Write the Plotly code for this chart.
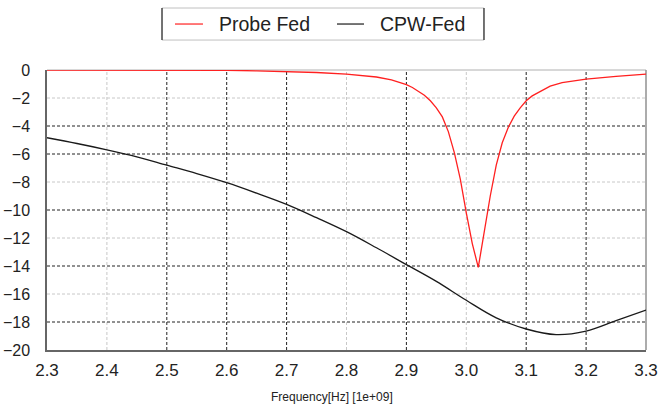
import plotly.graph_objects as go

# Data (frequency in GHz, S11 in dB)
probe_freq = [2.3, 2.4, 2.5, 2.6, 2.65, 2.7, 2.75, 2.8, 2.85, 2.875, 2.9, 2.91, 2.92, 2.93, 2.94,
              2.95, 2.96, 2.97, 2.98, 2.99, 3.0, 3.01, 3.02, 3.03, 3.04, 3.05, 3.06, 3.07, 3.08,
              3.09, 3.1, 3.11, 3.12, 3.13, 3.14, 3.16, 3.18, 3.2, 3.25, 3.3]
probe_db = [0.0, 0.0, 0.0, -0.02, -0.06, -0.1, -0.18, -0.3, -0.5, -0.7, -1.05, -1.25, -1.5, -1.8,
            -2.2, -2.7, -3.35, -4.4, -5.9, -7.8, -10.2, -12.4, -14.1, -11.5, -9.0, -6.8, -5.2,
            -4.1, -3.3, -2.7, -2.2, -1.85, -1.6, -1.35, -1.15, -0.9, -0.75, -0.65, -0.45, -0.3]

cpw_freq = [2.3, 2.35, 2.4, 2.45, 2.5, 2.55, 2.6, 2.65, 2.7, 2.75, 2.8, 2.85, 2.9, 2.95,
            3.0, 3.05, 3.1, 3.15, 3.2, 3.25, 3.3]
cpw_db = [-4.84, -5.25, -5.7, -6.2, -6.8, -7.4, -8.05, -8.8, -9.6, -10.55, -11.55, -12.7,
          -13.9, -15.1, -16.45, -17.7, -18.5, -18.9, -18.65, -17.9, -17.15]

series_names = ["Probe Fed", "CPW-Fed"]
series_colors = ["#ff2020", "#1a1a1a"]

x_ticks = [2.3, 2.4, 2.5, 2.6, 2.7, 2.8, 2.9, 3.0, 3.1, 3.2, 3.3]
y_ticks = [0, -2, -4, -6, -8, -10, -12, -14, -16, -18, -20]

# grid line styling (dark / light dashed) for interior grid lines
x_grid = [2.4, 2.5, 2.6, 2.7, 2.8, 2.9, 3.0, 3.1, 3.2]
x_grid_dark = [False, True, True, True, False, True, False, True, True]
y_grid = [-2, -4, -6, -8, -10, -12, -14, -16, -18]
y_grid_dark = [False, True, True, False, True, False, True, False, True]

DARK = "#222222"
LIGHT = "#c8c8c8"

fig = go.Figure()
fig.add_trace(go.Scatter(x=probe_freq, y=probe_db, mode="lines", name=series_names[0],
                         line=dict(color=series_colors[0], width=1.3)))
fig.add_trace(go.Scatter(x=cpw_freq, y=cpw_db, mode="lines", name=series_names[1],
                         line=dict(color=series_colors[1], width=1.3, shape="spline")))

shapes = []
for v, d in zip(x_grid, x_grid_dark):
    shapes.append(dict(type="line", xref="x", yref="y domain", x0=v, x1=v, y0=0, y1=1,
                       layer="below", line=dict(color=DARK if d else LIGHT, width=1, dash="3px,2px")))
for v, d in zip(y_grid, y_grid_dark):
    shapes.append(dict(type="line", xref="x domain", yref="y", x0=0, x1=1, y0=v, y1=v,
                       layer="below", line=dict(color=DARK if d else LIGHT, width=1, dash="3px,2px")))
# top and right frame (light)
shapes.append(dict(type="line", xref="x domain", yref="y domain", x0=0, x1=1, y0=1, y1=1,
                   layer="below", line=dict(color="#b0b0b0", width=1)))
shapes.append(dict(type="line", xref="x domain", yref="y domain", x0=1, x1=1, y0=0, y1=1,
                   layer="below", line=dict(color="#909090", width=1.5)))

# manual legend box (paper coords)
LX0, LX1, LYB, LYT = 0.192, 0.7295, 1.107, 1.2214
LYM = (LYB + LYT) / 2
shapes += [
    dict(type="line", xref="paper", yref="paper", x0=LX0, x1=LX1, y0=LYT, y1=LYT, line=dict(color="#c0c0c0", width=1)),
    dict(type="line", xref="paper", yref="paper", x0=LX0, x1=LX1, y0=LYB, y1=LYB, line=dict(color="#c0c0c0", width=1)),
    dict(type="line", xref="paper", yref="paper", x0=LX0, x1=LX0, y0=LYB, y1=LYT, line=dict(color="#444444", width=1.5)),
    dict(type="line", xref="paper", yref="paper", x0=LX1, x1=LX1, y0=LYB, y1=LYT, line=dict(color="#444444", width=1.5)),
]
sample_x = [(0.2137, 0.2604), (0.4841, 0.5292)]
text_x = [0.2838, 0.5526]
annotations = []
for (sx0, sx1), tx, nm, col in zip(sample_x, text_x, series_names, series_colors):
    shapes.append(dict(type="line", xref="paper", yref="paper", x0=sx0, x1=sx1, y0=LYM, y1=LYM,
                       line=dict(color=col, width=1.2)))
    annotations.append(dict(text=nm, xref="paper", yref="paper", x=tx, y=LYM, xanchor="left",
                            yanchor="middle", showarrow=False, font=dict(size=19.5, color="#222222")))

annotations.append(dict(text="Frequency[Hz] [1e+09]", xref="paper", yref="paper",
                        x=0.475, y=-0.167, xanchor="center", yanchor="middle", showarrow=False,
                        font=dict(size=12, color="#222222")))

fig.update_layout(
    width=672, height=410,
    margin=dict(l=47, r=26, t=70, b=60, autoexpand=False),
    paper_bgcolor="white", plot_bgcolor="white",
    font=dict(family="Liberation Sans, Arial, sans-serif", color="#222222"),
    shapes=shapes,
    showlegend=False,
    xaxis=dict(range=[2.3, 3.3], tickvals=x_ticks, ticktext=[f"{t:.1f}" for t in x_ticks],
               showgrid=False, zeroline=False, showline=True, linecolor="#666666", linewidth=1.5,
               ticks="", ticklabelstandoff=4, automargin=False, tickfont=dict(size=17, color="#222222")),
    yaxis=dict(range=[-20, 0], tickvals=y_ticks, showgrid=False, zeroline=False, showline=True,
               linecolor="#666666", linewidth=1.5, ticks="", ticklabelstandoff=12, automargin=False,
               tickfont=dict(size=16, color="#222222")),
    annotations=annotations,
)

fig.write_html("out.html")
